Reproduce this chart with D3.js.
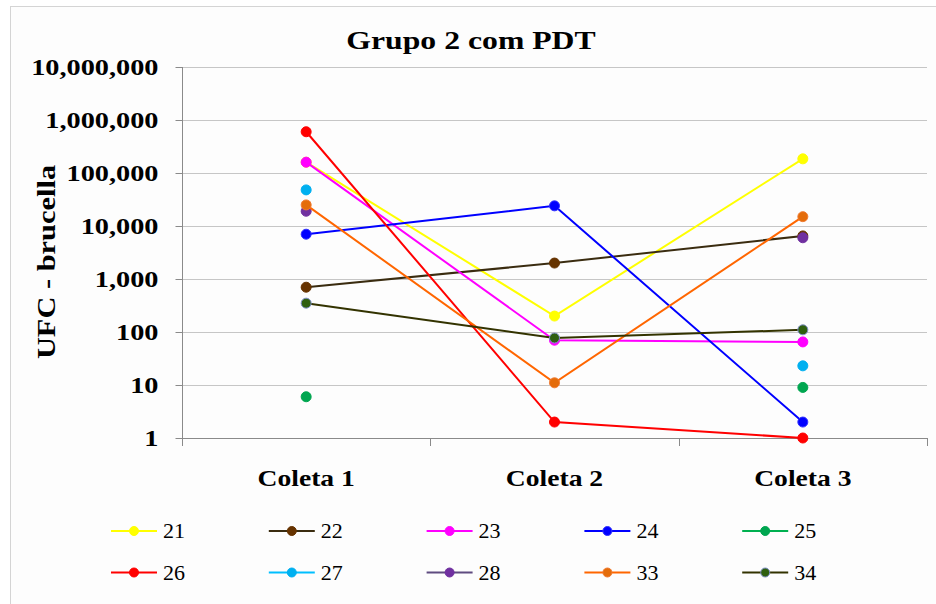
<!DOCTYPE html>
<html>
<head>
<meta charset="utf-8">
<script src="https://cdn.jsdelivr.net/npm/d3@7"></script>
<style>
  html, body { margin: 0; padding: 0; background: #ffffff; }
  svg { display: block; }
</style>
</head>
<body>
<svg id="chart" width="936" height="604"></svg>
<script>
// Colony counts (UFC) per sample, group 2 with PDT
const categories = ["Coleta 1", "Coleta 2", "Coleta 3"];
const seriesNames = ["21", "22", "23", "24", "25", "26", "27", "28", "33", "34"];
const s21 = [160000, 200, 185000];
const s22 = [700, 2000, 6500];
const s23 = [160000, 70, 65];
const s24 = [7000, 24000, 2];
const s25 = [6, null, 9];
const s26 = [600000, 2, 1];
const s27 = [48000, null, 23];
const s28 = [19000, null, 6000];
const s33 = [25000, 11, 15000];
const s34 = [350, 77, 110];
const yTicks = [1, 10, 100, 1000, 10000, 100000, 1000000, 10000000];

const seriesValues = [s21, s22, s23, s24, s25, s26, s27, s28, s33, s34];

// Line and marker colours per series
const lineColors   = ["#ffff00", "#3a2c10", "#ff00ff", "#0000ff", "#00b050", "#ff0000", "#00bfff", "#5f4b80", "#ff6600", "#333300"];
const markerColors = ["#ffff00", "#663300", "#ff00ff", "#0000ff", "#00a650", "#ff0000", "#00b0f0", "#7030a0", "#e46c0a", "#2f5f10"];
const markerEdges  = ["#ffff00", "#663300", "#ff00ff", "#3030ff", "#00a650", "#ff0000", "#00b0f0", "#7030a0", "#f07a30", "#7f8fc8"];

const serif = "'Liberation Serif', 'Times New Roman', serif";
const svg = d3.select("#chart");

// chart frame
svg.append("rect")
  .attr("x", 10.5).attr("y", 6.5)
  .attr("width", 960).attr("height", 640)
  .attr("fill", "#fdfdfd").attr("stroke", "#d4d4d4");

const x = d3.scaleBand().domain(categories).range([182, 927]).padding(0);
const y = d3.scaleLog().domain([1, 1e7]).range([438, 67]);

// horizontal gridlines
svg.append("g")
  .selectAll("line")
  .data(yTicks.slice(1))
  .join("line")
  .attr("x1", 182).attr("x2", 927)
  .attr("y1", d => Math.round(y(d)) + 0.5)
  .attr("y2", d => Math.round(y(d)) + 0.5)
  .attr("stroke", "#c6c6c6").attr("stroke-width", 1.2);

// y axis
const yAxis = svg.append("g")
  .attr("transform", "translate(182.5,0)")
  .call(d3.axisLeft(y).tickValues(yTicks).tickFormat(d3.format(",")).tickSize(7).tickSizeOuter(0).tickPadding(17));
yAxis.select(".domain").attr("stroke", "#8a8a8a").attr("d", `M0,${y(1e7)}V${y(1) + 0.5}`);
yAxis.selectAll(".tick line").attr("stroke", "#8a8a8a");
yAxis.selectAll(".tick text")
  .attr("font-family", serif).attr("font-weight", "bold").attr("font-size", 24)
  .attr("fill", "#000")
  .attr("transform", "translate(-24,0) scale(1.18,1) translate(24,0)");

// x axis
const xAxis = svg.append("g")
  .attr("transform", `translate(0,${y(1) + 0.5})`)
  .call(d3.axisBottom(x).tickSize(0).tickPadding(0));
xAxis.select(".domain").attr("stroke", "#8a8a8a").attr("d", "M182,0H927");
xAxis.selectAll(".tick text").remove();
// category boundary ticks
svg.append("g")
  .selectAll("line")
  .data([x.range()[0]].concat(categories.map(c => x(c) + x.bandwidth())))
  .join("line")
  .attr("x1", d => Math.round(d) + 0.5).attr("x2", d => Math.round(d) + 0.5)
  .attr("y1", y(1)).attr("y2", y(1) + 8)
  .attr("stroke", "#8a8a8a");
// category labels
svg.append("g")
  .selectAll("text")
  .data(categories)
  .join("text")
  .attr("transform", d => `translate(${x(d) + x.bandwidth() / 2},486) scale(1.2,1)`)
  .attr("text-anchor", "middle")
  .attr("font-family", serif).attr("font-weight", "bold").attr("font-size", 23)
  .text(d => d);

// title
svg.append("text")
  .attr("transform", "translate(471,49) scale(1.22,1)")
  .attr("text-anchor", "middle")
  .attr("font-family", serif).attr("font-weight", "bold").attr("font-size", 26)
  .text("Grupo 2 com PDT");

// y axis title
svg.append("text")
  .attr("transform", "translate(55,262) rotate(-90) scale(1.17,1)")
  .attr("text-anchor", "middle")
  .attr("font-family", serif).attr("font-weight", "bold").attr("font-size", 26)
  .text("UFC  - brucella");

// series lines and markers
const line = d3.line()
  .defined(d => d.v != null)
  .x(d => x(d.c) + x.bandwidth() / 2)
  .y(d => y(d.v));

const plot = svg.append("g");
seriesNames.forEach((name, i) => {
  const pts = categories.map((c, j) => ({ c, v: seriesValues[i][j] }));
  const g = plot.append("g");
  g.append("path")
    .datum(pts)
    .attr("d", line)
    .attr("fill", "none")
    .attr("stroke", lineColors[i])
    .attr("stroke-width", 2);
  g.selectAll("circle")
    .data(pts.filter(d => d.v != null))
    .join("circle")
    .attr("cx", d => x(d.c) + x.bandwidth() / 2)
    .attr("cy", d => y(d.v))
    .attr("r", 5)
    .attr("fill", markerColors[i])
    .attr("stroke", markerEdges[i])
    .attr("stroke-width", 1);
});

// legend: 5 columns x 2 rows
const legend = svg.append("g");
seriesNames.forEach((name, i) => {
  const col = i % 5, row = Math.floor(i / 5);
  const lx = 111 + col * 157.8;
  const ly = 531 + row * 41.5;
  const g = legend.append("g").attr("transform", `translate(${lx},${ly})`);
  g.append("line")
    .attr("x1", 0).attr("x2", 46).attr("y1", 0).attr("y2", 0)
    .attr("stroke", lineColors[i]).attr("stroke-width", 2);
  g.append("circle")
    .attr("cx", 23).attr("cy", 0).attr("r", 4.5)
    .attr("fill", markerColors[i]).attr("stroke", markerEdges[i]).attr("stroke-width", 1);
  g.append("text")
    .attr("transform", "translate(52,7) scale(1.1,1)")
    .attr("font-family", serif).attr("font-size", 20)
    .attr("fill", "#000")
    .text(name);
});
</script>
</body>
</html>
